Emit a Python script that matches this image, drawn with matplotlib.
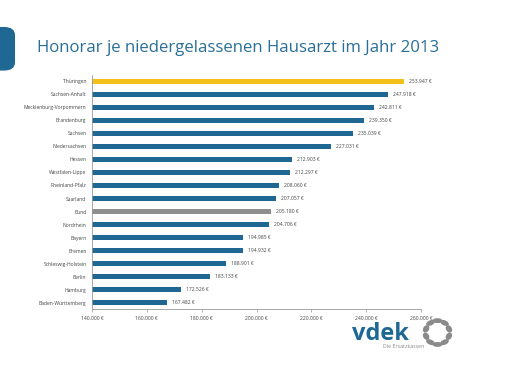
import matplotlib.pyplot as plt
from matplotlib.patches import FancyBboxPatch, Ellipse
import numpy as np

laender = ['Thüringen', 'Sachsen-Anhalt', 'Mecklenburg-Vorpommern', 'Brandenburg',
           'Sachsen', 'Niedersachsen', 'Hessen', 'Westfalen-Lippe', 'Rheinland-Pfalz',
           'Saarland', 'Bund', 'Nordrhein', 'Bayern', 'Bremen', 'Schleswig-Holstein',
           'Berlin', 'Hamburg', 'Baden-Württemberg']
honorar = [253947, 247918, 242811, 239350, 235039, 227031, 212903, 212297, 208060,
           207057, 205180, 204706, 194985, 194932, 188901, 183133, 172526, 167482]
xticks = [140000, 160000, 180000, 200000, 220000, 240000, 260000]

blue = '#1f6893'
colors = [blue] * len(laender)
colors[0] = '#f3c01c'
colors[laender.index('Bund')] = '#8e8e8e'


def euro(v):
    return f'{v:,.0f} €'.replace(',', '.')


plt.rcParams['font.family'] = ['Open Sans', 'DejaVu Sans']
fig = plt.figure(figsize=(5.12, 3.84), dpi=100)
fig.patch.set_facecolor('white')

ax = fig.add_axes([0.1797, 0.1953, 0.6426, 0.6094])
y = np.arange(len(laender))
ax.barh(y, [v - 140000 for v in honorar], left=140000, height=0.45, color=colors)
for yi, v in zip(y, honorar):
    ax.text(v + 1800, yi, euro(v), va='center', ha='left', fontsize=3.6, color='#444444')

ax.set_xlim(140000, 260000)
ax.set_ylim(len(laender) - 0.5, -0.5)
ax.set_yticks(y)
ax.set_yticklabels(laender, fontsize=3.6, color='#444444')
ax.set_xticks(xticks)
ax.set_xticklabels([euro(t) for t in xticks], fontsize=3.6, color='#444444')
ax.tick_params(axis='y', length=0, pad=4)
ax.tick_params(axis='x', length=2, width=0.5, color='#999999', pad=3)
for s in ['top', 'right']:
    ax.spines[s].set_visible(False)
for s in ['left', 'bottom']:
    ax.spines[s].set_color('#999999')
    ax.spines[s].set_linewidth(0.6)

fig.text(0.072, 0.875, 'Honorar je niedergelassenen Hausarzt im Jahr 2013',
         fontsize=12.1, color='#2a6f97', ha='left', va='center')

# blue tab at the left edge
tab = FancyBboxPatch((-0.03, 0.818), 0.058, 0.11, boxstyle='round,pad=0,rounding_size=0.02',
                     transform=fig.transFigure, color='#1f6893', clip_on=False)
fig.add_artist(tab)

# vdek logo
fig.text(0.688, 0.115, 'vdek', fontsize=17, fontweight='bold', color='#1f6893',
         ha='left', va='baseline')
fig.text(0.788, 0.097, 'Die Ersatzkassen', fontsize=3.8, color='#888888',
         ha='center', va='center')
cx, cy = 0.8545, 0.134
for a in np.deg2rad(np.arange(0, 360, 36) + 18):
    e = Ellipse((cx + 0.0234 * np.cos(a), cy + 0.031 * np.sin(a)), 0.009, 0.016,
                angle=np.rad2deg(a), transform=fig.transFigure, color='#8a8a8a')
    fig.add_artist(e)

fig.savefig('out.png', dpi=100)
